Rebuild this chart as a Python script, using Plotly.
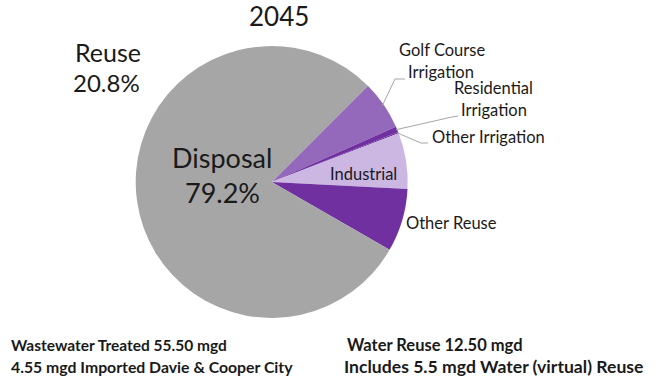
import math
import plotly.graph_objects as go

# ---------------- data ----------------
title_text = "2045"
slice_labels = ["Golf Course Irrigation", "Residential Irrigation", "Other Irrigation",
                "Industrial", "Other Reuse", "Disposal"]
slice_values = [3.5, 0.4, 0.1, 4.0, 4.5, 47.55]   # mgd
slice_colors = ["#9468BA", "#7030A0", "#7030A0", "#CCB7E2", "#7030A0", "#A6A6A6"]
reuse_names = ["Golf Course Irrigation", "Residential Irrigation", "Other Irrigation",
               "Industrial", "Other Reuse"]
footer_left = ["Wastewater Treated 55.50 mgd", "4.55 mgd Imported Davie & Cooper City"]
footer_right = ["Water Reuse 12.50 mgd", "Includes 5.5 mgd Water (virtual) Reuse"]

W, H = 657, 385
FONT = "Lato"
ROT = 45  # degrees clockwise from 12 o'clock where first slice starts

# pie geometry (window pixels)
cx, cy, R = 271.7, 182.0, 136.0

def px(x):
    return x / W

def py(y):
    return 1 - y / H

total = sum(slice_values)
reuse_total = sum(v for l, v in zip(slice_labels, slice_values) if l in reuse_names)
disp_total = slice_values[slice_labels.index("Disposal")]

# mid angle (clockwise from top) of each slice
mid_angles = {}
cum = 0.0
for l, v in zip(slice_labels, slice_values):
    a0 = ROT + cum / total * 360
    cum += v
    a1 = ROT + cum / total * 360
    mid_angles[l] = (a0 + a1) / 2

def edge_point(label, r=R):
    a = math.radians(mid_angles[label])
    return cx + r * math.sin(a), cy - r * math.cos(a)

fig = go.Figure(go.Pie(
    labels=slice_labels,
    values=slice_values,
    marker=dict(colors=slice_colors, line=dict(width=0)),
    sort=False,
    direction="clockwise",
    rotation=ROT,
    textinfo="none",
    hoverinfo="label+value+percent",
    showlegend=False,
    domain=dict(x=[px(cx - R), px(cx + R)], y=[py(cy + R), py(cy - R)]),
))

ann = []
def add_text(x, y, text, size, bold=False, xanchor="center", color="#1a1a1a"):
    if bold:
        text = "<b>" + text + "</b>"
    ann.append(dict(x=px(x), y=py(y), xref="paper", yref="paper", text=text,
                    showarrow=False, xanchor=xanchor, yanchor="middle",
                    font=dict(family=FONT, size=size, color=color)))

add_text(279, 16, title_text, 26)
add_text(108, 52, "Reuse", 25)
add_text(106, 83, f"{reuse_total / total * 100:.1f}%", 24)
add_text(222, 157, "Disposal", 27)
add_text(222, 193, f"{disp_total / total * 100:.1f}%", 27)
add_text(363, 174, "Industrial", 16.5)
add_text(451, 223, "Other Reuse", 16.5)
add_text(442, 50, "Golf Course", 16.5)
add_text(441, 72, "Irrigation", 16.5)
add_text(493, 88, "Residential", 16.5)
add_text(494, 110, "Irrigation", 16.5)
add_text(488, 137, "Other Irrigation", 16.5)

add_text(9, 345, footer_left[0], 15.5, bold=True, xanchor="left")
add_text(9, 366, footer_left[1], 15.8, bold=True, xanchor="left")
add_text(345, 345, footer_right[0], 16.5, bold=True, xanchor="left")
add_text(342, 366, footer_right[1], 17.6, bold=True, xanchor="left")

# leader lines
shapes = []
def leader(points):
    for (x0, y0), (x1, y1) in zip(points[:-1], points[1:]):
        shapes.append(dict(type="line", xref="paper", yref="paper",
                           x0=px(x0), y0=py(y0), x1=px(x1), y1=py(y1),
                           line=dict(color="#A6A6A6", width=1)))

leader([edge_point("Golf Course Irrigation", R - 2), (395, 79), (405, 79)])
leader([edge_point("Residential Irrigation", R - 1), (452, 117), (458, 116)])
leader([edge_point("Other Irrigation", R - 1), (421, 143), (428, 143)])

fig.update_layout(
    width=W, height=H,
    margin=dict(l=0, r=0, t=0, b=0),
    paper_bgcolor="white", plot_bgcolor="white",
    annotations=ann, shapes=shapes,
    font=dict(family=FONT),
)

fig.write_html("out.html",
               config={"displayModeBar": False},
               post_script="document.body.style.margin='0px';document.body.style.overflow='hidden';")
